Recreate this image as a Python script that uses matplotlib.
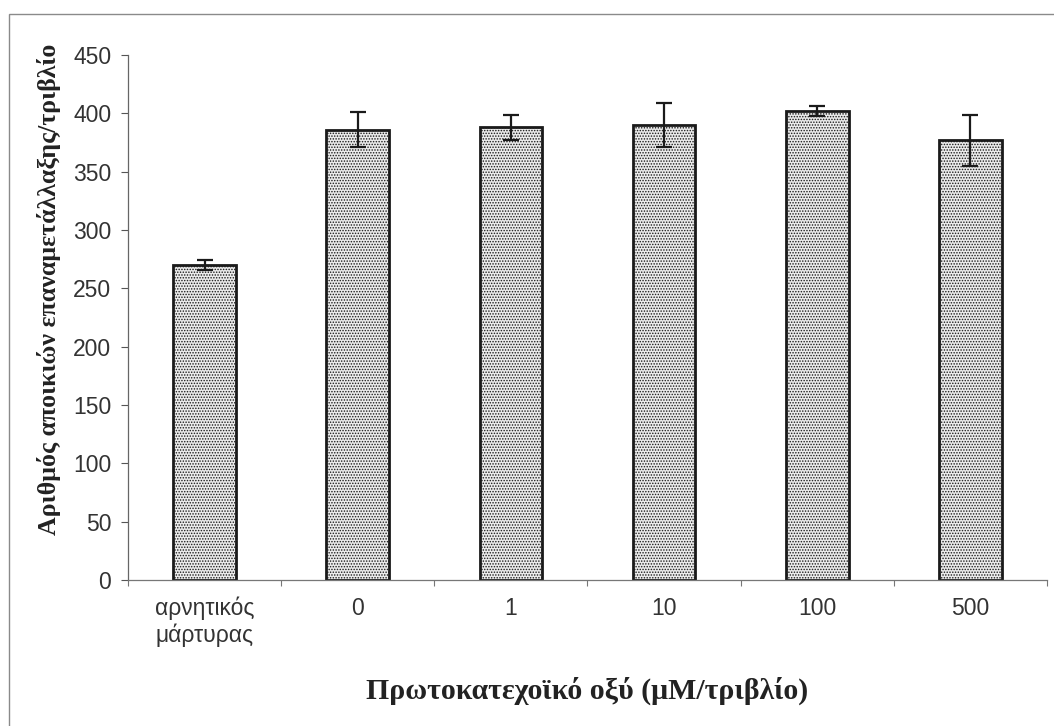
import matplotlib.pyplot as plt
from matplotlib.patches import Rectangle

# Colony counts per plate for each concentration
categories = ["αρνητικός\nμάρτυρας", "0", "1", "10", "100", "500"]
means = [270, 386, 388, 390, 402, 377]
errors = [4, 15, 11, 19, 4, 22]

plt.rcParams["hatch.color"] = "#8a8a8a"
plt.rcParams["hatch.linewidth"] = 0.7

fig = plt.figure(figsize=(10.54, 7.26), dpi=100)
ax = fig.add_axes([0.1214, 0.2011, 0.8720, 0.7231])

x = range(len(categories))
ax.bar(x, means, width=0.41, color="#ebebeb", edgecolor="#1a1a1a",
       linewidth=2.0, hatch="......", zorder=2)
ax.errorbar(x, means, yerr=errors, fmt="none", ecolor="#1a1a1a",
            elinewidth=1.6, capsize=5.5, capthick=1.6, zorder=3)

ax.set_xlim(-0.5, len(categories) - 0.5)
ax.set_ylim(0, 450)
ax.set_yticks(range(0, 451, 50))

# category labels sit between boundary ticks
ax.set_xticks([i + 0.5 for i in range(-1, len(categories))])
ax.set_xticklabels([])
ax.set_xticks(list(x), minor=True)
ax.set_xticklabels(categories, minor=True, fontsize=16.5,
                   family="Liberation Sans", color="#333333",
                   linespacing=1.2)
ax.tick_params(axis="x", which="major", direction="out", length=4,
               width=0.8, color="#777777")
ax.tick_params(axis="x", which="minor", length=0, pad=12)
ax.tick_params(axis="y", direction="out", length=5, width=0.8,
               color="#555555", pad=7, labelsize=16.5, labelcolor="#333333")
for lbl in ax.get_yticklabels():
    lbl.set_family("Liberation Sans")

for side in ["top", "right"]:
    ax.spines[side].set_visible(False)
ax.spines["left"].set_color("#666666")
ax.spines["bottom"].set_color("#777777")
ax.spines["left"].set_linewidth(0.9)
ax.spines["bottom"].set_linewidth(0.9)

ax.set_ylabel("Αριθμός αποικιών επαναμετάλλαξης/τριβλίο",
              family="Liberation Serif", fontweight="bold", fontsize=18.6,
              color="#222222")
ax.yaxis.set_label_coords(-0.073, 0.554)
ax.set_xlabel("Πρωτοκατεχοϊκό οξύ (μΜ/τριβλίο)",
              family="Liberation Serif", fontweight="bold", fontsize=21.5,
              color="#222222", labelpad=21)

# thin frame around the chart area
fig.patches.append(Rectangle((9 / 1054, -0.1), 1.2, 1 - 14 / 726 + 0.1,
                             transform=fig.transFigure, fill=False,
                             edgecolor="#8a8a8a", linewidth=1.0))

fig.savefig("out.png", dpi=100, facecolor="white")
